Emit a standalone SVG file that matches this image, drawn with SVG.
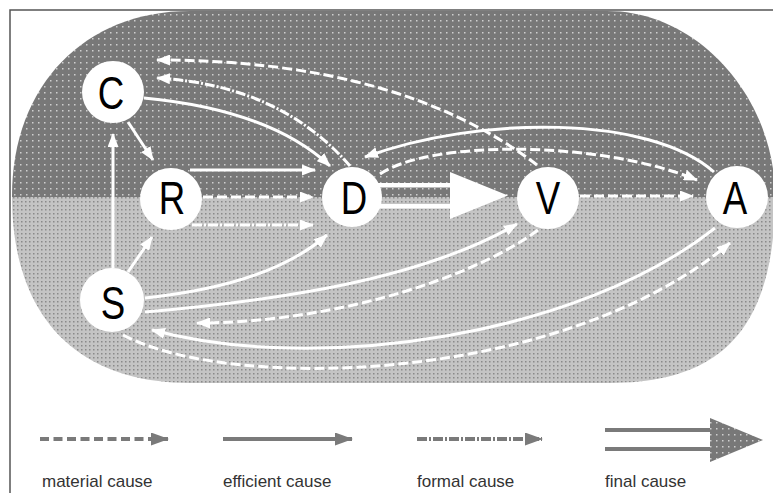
<svg xmlns="http://www.w3.org/2000/svg" width="773" height="493" viewBox="0 0 773 493">
<style>
.c{fill:none;stroke:#fff;stroke-width:3}
.mat{stroke-dasharray:10 4}
.frm{stroke-dasharray:10 2 2 2}
.eff{}
.node circle{fill:#fff}
.node text{font-family:"Liberation Sans",Arial,sans-serif;font-size:47px;fill:#000;text-anchor:middle}
.lg{fill:none;stroke:#7a7a7a;stroke-width:4}
.lt{font-family:"Liberation Sans",Arial,sans-serif;font-size:17px;fill:#333}
</style>
<defs>
<pattern id="pd" width="6" height="6" patternUnits="userSpaceOnUse"><rect width="6" height="6" fill="#787878"/><rect x="2" y="2" width="1.5" height="1.5" fill="#cfcfcf"/></pattern>
<pattern id="pl" width="4" height="4" patternUnits="userSpaceOnUse"><rect width="4" height="4" fill="#c4c4c4"/><rect x="1" y="1" width="1.5" height="1.5" fill="#8a8a8a"/></pattern>
<clipPath id="stad"><path d="M190,11 L607,11 C700,11 775,100 775,196 C775,330 720,383 610,383 L190,383 C75,383 12,315 12,196 C12,85 85,11 190,11 Z"/></clipPath>
<marker id="aw" markerUnits="userSpaceOnUse" markerWidth="14" markerHeight="11" refX="13" refY="5.5" orient="auto"><path d="M0,0 L14,5.5 L0,11 z" fill="#fff"/></marker>
<marker id="ag" markerUnits="userSpaceOnUse" markerWidth="18" markerHeight="13" refX="17" refY="6.5" orient="auto"><path d="M0,0 L18,6.5 L0,13 z" fill="#7a7a7a"/></marker>
</defs>
<rect width="773" height="493" fill="#fff"/>
<g clip-path="url(#stad)">
<rect x="0" y="0" width="773" height="197" fill="url(#pd)"/>
<rect x="0" y="197" width="773" height="200" fill="url(#pl)"/>
</g>
<path d="M10,493 L10,10 L773,10" fill="none" stroke="#555" stroke-width="1.5"/>
<g id="connectors">
<path class="c mat" d="M537,165 Q400,60 157,60" marker-end="url(#aw)"/>
<path class="c frm" d="M350,166 Q280,85 157,78" marker-end="url(#aw)"/>
<path class="c eff" d="M144,98 Q270,110 330,166" marker-end="url(#aw)"/>
<path class="c eff" d="M128,122 L153,160" marker-end="url(#aw)"/>
<path class="c eff" d="M113,268 L113,134" marker-end="url(#aw)"/>
<path class="c eff" d="M190,170 L315,170" marker-end="url(#aw)"/>
<path class="c mat" d="M203,197 L313,197" marker-end="url(#aw)"/>
<path class="c frm" d="M192,225 L313,225" marker-end="url(#aw)"/>
<path class="c eff" d="M128,272 L152,237" marker-end="url(#aw)"/>
<g id="final-DV" fill="#fff">
<rect x="378" y="183" width="74" height="4.5"/>
<rect x="378" y="204" width="74" height="4.5"/>
<path d="M450,172 L508,195.5 L450,219 z"/>
</g>
<path class="c mat" d="M580,196 L693,196" marker-end="url(#aw)"/>
<path class="c eff" d="M714,172 C650,115 480,115 365,157" marker-end="url(#aw)"/>
<path class="c mat" d="M380,174 C430,140 600,140 697,180" marker-end="url(#aw)"/>
<path class="c eff" d="M145,298 Q270,285 327,235" marker-end="url(#aw)"/>
<path class="c eff" d="M145,312 C280,300 420,280 517,224" marker-end="url(#aw)"/>
<path class="c mat" d="M538,230 C470,280 330,323 197,323" marker-end="url(#aw)"/>
<path class="c eff" d="M715,228 C580,335 320,375 152,330" marker-end="url(#aw)"/>
<path class="c mat" d="M123,335 C230,392 560,385 730,243" marker-end="url(#aw)"/>
</g>
<g id="node-C" class="node"><circle cx="113" cy="92" r="31"/><text transform="translate(111,109) scale(0.78,1)">C</text></g>
<g id="node-R" class="node"><circle cx="171" cy="199" r="31"/><text transform="translate(172,214) scale(0.78,1)">R</text></g>
<g id="node-D" class="node"><circle cx="352" cy="197" r="30"/><text transform="translate(354,214) scale(0.78,1)">D</text></g>
<g id="node-V" class="node"><circle cx="548" cy="198" r="31"/><text transform="translate(548,214) scale(0.78,1)">V</text></g>
<g id="node-A" class="node"><circle cx="737" cy="197" r="31"/><text transform="translate(735,214) scale(0.78,1)">A</text></g>
<g id="node-S" class="node"><circle cx="112" cy="300" r="32"/><text transform="translate(113,319) scale(0.78,1)">S</text></g>
<g id="legend">
<path class="lg" d="M40,439 L168,439" stroke-dasharray="9 4.5" marker-end="url(#ag)"/>
<path class="lg" d="M223,439 L352,439" marker-end="url(#ag)"/>
<path class="lg" d="M417,439 L542,439" stroke-dasharray="10 2 2 2" marker-end="url(#ag)"/>
<rect x="605" y="428" width="108" height="4" fill="#7a7a7a"/>
<rect x="605" y="447" width="108" height="4" fill="#7a7a7a"/>
<path d="M710,418 L763,440 L710,462 z" fill="url(#pd)"/>
<text class="lt" x="42" y="487">material cause</text>
<text class="lt" x="223" y="487">efficient cause</text>
<text class="lt" x="417" y="487">formal cause</text>
<text class="lt" x="605" y="487">final cause</text>
</g>
</svg>
